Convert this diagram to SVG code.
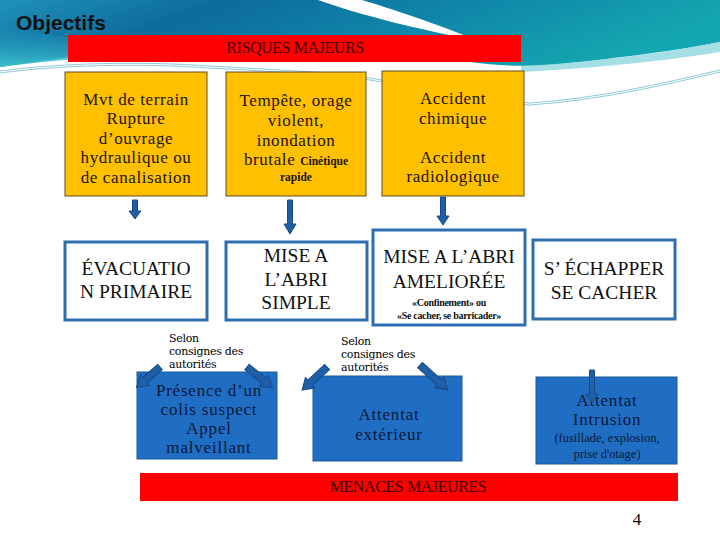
<svg xmlns="http://www.w3.org/2000/svg" width="720" height="540" viewBox="0 0 720 540">
<defs>
<linearGradient id="sky" x1="0" y1="0" x2="1" y2="0.25">
<stop offset="0" stop-color="#1f92b8"/>
<stop offset="0.3" stop-color="#0d6b9e"/>
<stop offset="0.6" stop-color="#0f84a8"/>
<stop offset="1" stop-color="#14a6b0"/>
</linearGradient>
<linearGradient id="skyLeft" x1="0" y1="0" x2="0" y2="1">
<stop offset="0" stop-color="#2aa6c4" stop-opacity="0"/>
<stop offset="1" stop-color="#3cc0cc"/>
</linearGradient>
<style>
.orange{fill:#ffc000;stroke:#5e4d2a;stroke-width:1}
.outline{fill:#ffffff;stroke:#2e6db0;stroke-width:3}
.blue{fill:#1f6ec4;stroke:#1a5a9c;stroke-width:1}
.bar{fill:#ff0000}
.t{text-anchor:middle}
.ot{font-size:17px;fill:#1c1408;letter-spacing:0.6px}
.small{font-size:11.5px;font-weight:bold;letter-spacing:0}
.caps{font-size:19.5px;fill:#111111}
.bt{font-size:17px;fill:#0b1838;letter-spacing:0.8px}
.note{font-size:11px;fill:#000000;letter-spacing:-0.3px}
.bartext{font-size:16px;fill:#3a0000;text-anchor:middle;letter-spacing:-0.4px}
.arr{fill:#1f5fa8;stroke:#174a85;stroke-width:1}
.wline{fill:none;stroke:#8fcbd9;stroke-width:1}
</style>
</defs>

<g id="background">
<rect width="720" height="540" fill="#ffffff"/>
<path d="M0,0 H720 V42 C680,50 620,58 560,64 C530,67 500,66 470,62 C380,54 300,46 200,48 C120,50 60,58 0,67 Z" fill="url(#sky)"/>
<path d="M0,28 C30,32 60,36 90,40 V58 C60,60 30,63 0,67 Z" fill="url(#skyLeft)"/>
<path d="M521,66 C600,62 670,52 720,42 V52 C670,60 600,68 521,72 Z" fill="#8ed6df" opacity="0.8"/>
<path d="M318,0 C360,15 420,30 476,40 C434,23 392,9 362,0 Z" fill="#ffffff"/>
<path d="M0,71 C60,63 140,61 210,66 C280,70 330,72 370,78 C430,88 480,100 530,103 C600,98 660,84 720,70" class="wline"/>
<path d="M0,73 C60,65 140,63 210,68 C280,72 330,74 370,80 C430,90 480,102 530,105 C600,100 660,86 720,72" class="wline"/>
<text x="16" y="30" font-family="Liberation Sans, Arial, sans-serif" font-size="21" font-weight="bold" fill="#111111">Objectifs</text>
</g>

<g id="risques" font-family="Liberation Serif">
<rect class="bar" x="68" y="35" width="453" height="27"/>
<text class="bartext" x="295" y="53">RISQUES MAJEURS</text>
</g>

<g id="n-terrain" font-family="Liberation Serif">
<rect class="orange" x="65" y="72" width="142" height="124"/>
<text class="t ot" x="136" y="105">Mvt de terrain</text>
<text class="t ot" x="136" y="124">Rupture</text>
<text class="t ot" x="136" y="144">d’ouvrage</text>
<text class="t ot" x="136" y="163">hydraulique ou</text>
<text class="t ot" x="136" y="183">de canalisation</text>
</g>

<g id="n-tempete" font-family="Liberation Serif">
<rect class="orange" x="226" y="72" width="140" height="124"/>
<text class="t ot" x="296" y="106">Tempête, orage</text>
<text class="t ot" x="296" y="126">violent,</text>
<text class="t ot" x="296" y="146">inondation</text>
<text class="t ot" x="296" y="165">brutale <tspan class="small">Cinétique</tspan></text>
<text class="t ot small" x="296" y="181">rapide</text>
</g>

<g id="n-accident" font-family="Liberation Serif">
<rect class="orange" x="382" y="71" width="142" height="125"/>
<text class="t ot" x="453" y="104">Accident</text>
<text class="t ot" x="453" y="124">chimique</text>
<text class="t ot" x="453" y="163">Accident</text>
<text class="t ot" x="453" y="182">radiologique</text>
</g>

<g id="n-evacuation" font-family="Liberation Serif">
<rect class="outline" x="65" y="242" width="142" height="78"/>
<text class="t caps" x="136" y="275">ÉVACUATIO</text>
<text class="t caps" x="136" y="298">N PRIMAIRE</text>
</g>

<g id="n-abri-simple" font-family="Liberation Serif">
<rect class="outline" x="226" y="242" width="141" height="78"/>
<text class="t caps" x="296" y="262">MISE A</text>
<text class="t caps" x="296" y="286">L’ABRI</text>
<text class="t caps" x="296" y="309">SIMPLE</text>
</g>

<g id="n-abri-amelioree" font-family="Liberation Serif">
<rect class="outline" x="373" y="230" width="152" height="95"/>
<text class="t caps" x="449" y="263">MISE A L’ABRI</text>
<text class="t caps" x="449" y="288">AMELIORÉE</text>
<text class="t" x="449" y="306" font-size="10" font-weight="bold" fill="#111111" letter-spacing="-0.3">«Confinement»  ou</text>
<text class="t" x="449" y="319" font-size="10" font-weight="bold" fill="#111111" letter-spacing="-0.3">«Se cacher, se barricader»</text>
</g>

<g id="n-echapper" font-family="Liberation Serif">
<rect class="outline" x="533" y="240" width="142" height="79"/>
<text class="t caps" x="604" y="275">S’ ÉCHAPPER</text>
<text class="t caps" x="604" y="299">SE CACHER</text>
</g>

<g id="n-colis" font-family="Liberation Serif">
<rect class="blue" x="137" y="372" width="140" height="87"/>
<text class="t bt" x="209" y="396">Présence d’un</text>
<text class="t bt" x="209" y="415">colis suspect</text>
<text class="t bt" x="209" y="434">Appel</text>
<text class="t bt" x="209" y="453">malveillant</text>
</g>

<g id="n-exterieur" font-family="Liberation Serif">
<rect class="blue" x="313" y="376" width="149" height="85"/>
<text class="t bt" x="389" y="420">Attentat</text>
<text class="t bt" x="389" y="440">extérieur</text>
</g>

<g id="n-intrusion" font-family="Liberation Serif">
<rect class="blue" x="536" y="377" width="141" height="87"/>
<text class="t bt" x="607" y="406">Attentat</text>
<text class="t bt" x="607" y="425">Intrusion</text>
<text class="t" x="607" y="442" font-size="12.5" fill="#0b1838">(fusillade, explosion,</text>
<text class="t" x="607" y="458" font-size="12.5" fill="#0b1838">prise d'otage)</text>
</g>

<g id="labels" font-family="DejaVu Serif">
<text class="note" x="169" y="342">Selon</text>
<text class="note" x="169" y="355">consignes des</text>
<text class="note" x="169" y="368">autorités</text>
<text class="note" x="341" y="345">Selon</text>
<text class="note" x="341" y="358">consignes des</text>
<text class="note" x="341" y="371">autorités</text>
</g>

<g id="menaces" font-family="Liberation Serif">
<rect class="bar" x="140" y="473" width="538" height="28"/>
<text class="bartext" x="408" y="492">MENACES MAJEURES</text>
</g>

<text x="637" y="525" font-family="Liberation Serif" font-size="17" fill="#000000" text-anchor="middle">4</text>

<g id="connectors">
<path class="arr" d="M132.5,200 H137.5 V211 H141 L135,219 L129,211 H132.5 Z"/>
<path class="arr" d="M287.5,200 H292.5 V224 H296 L290,234 L284,224 H287.5 Z"/>
<path class="arr" d="M440.5,197 H445.5 V216 H449 L443,225 L437,216 H440.5 Z"/>
<g transform="translate(160,367) rotate(139)"><path class="arr" d="M0,-3.5 H20 V-7 L31,0 L20,7 V3.5 H0 Z"/></g>
<g transform="translate(247,367) rotate(39)"><path class="arr" d="M0,-3.5 H22 V-7 L33,0 L22,7 V3.5 H0 Z"/></g>
<g transform="translate(327,367) rotate(137)"><path class="arr" d="M0,-3.5 H23 V-7 L34,0 L23,7 V3.5 H0 Z"/></g>
<g transform="translate(420,365) rotate(42)"><path class="arr" d="M0,-3.5 H26 V-7 L37,0 L26,7 V3.5 H0 Z"/></g>
<path class="arr" d="M589.5,370 H594.5 V394 H598 L592,403 L586,394 H589.5 Z"/>
</g>
</svg>
